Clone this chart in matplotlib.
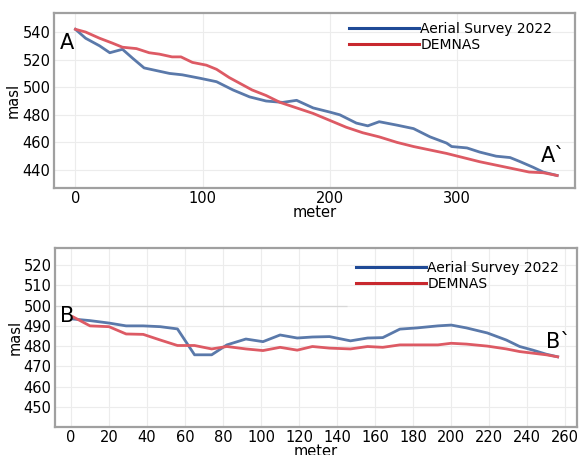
import matplotlib.pyplot as plt

# profile A - A`
a_dist_survey = [0, 8, 19, 27, 37, 45, 54, 64, 74, 84, 98, 111, 124, 137, 150, 163, 174,
                 187, 200, 208, 221, 230, 239, 253, 266, 279, 292, 296, 308, 318, 331, 342,
                 350, 360, 368, 379]
a_elev_survey = [542, 535.5, 530, 525, 527.5, 521, 514, 512, 510, 509, 506.5, 504, 498, 493,
                 490, 489, 490.5, 485, 482, 480, 474, 472, 475, 472.5, 470, 464, 459.5, 457,
                 456, 453, 450, 449, 446, 442, 438.5, 436]
a_dist_demnas = [0, 8, 19, 29, 37, 48, 58, 66, 76, 83, 92, 103, 111, 121, 129, 139, 150, 161,
                 174, 187, 200, 213, 226, 239, 253, 266, 279, 292, 305, 318, 331, 344, 357,
                 368, 379]
a_elev_demnas = [542, 540, 535.5, 532, 529, 528, 525, 524, 522, 522, 518, 516, 513, 507, 503,
                 498, 494, 489, 485, 481, 476, 471, 467, 464, 460, 457, 454.5, 452, 449, 446,
                 443.5, 441, 438.5, 438, 436]

# profile B - B`
b_dist = [1, 10, 20, 29, 38, 47, 56, 65, 74, 82, 92, 101, 110, 119, 127, 136, 147, 156, 164,
          173, 182, 193, 200, 208, 219, 229, 236, 243, 250, 256]
b_elev_survey = [493.4, 492.6, 491.4, 490, 490, 489.6, 488.5, 475.7, 475.7, 480.6, 483.5,
                 482.2, 485.5, 484, 484.5, 484.7, 482.6, 484, 484.2, 488.4, 489, 490, 490.4,
                 489, 486.5, 483, 479.8, 478, 476, 474.7]
b_elev_demnas = [494.5, 490, 489.6, 486, 485.8, 483, 480.3, 480.3, 478.6, 479.8, 478.6, 477.8,
                 479.4, 478, 479.8, 479, 478.6, 479.8, 479.4, 480.6, 480.6, 480.6, 481.4, 481,
                 480, 478.6, 477.3, 476.5, 475.7, 474.7]

blue_line = '#5a79aa'
red_line = '#dd5a64'
blue_leg = '#1f4a96'
red_leg = '#c8282e'
frame = '#a0a0a0'


def style_axes(ax):
    for s in ax.spines.values():
        s.set_color(frame)
        s.set_linewidth(1.6)
    ax.tick_params(length=0, labelsize=10.5, pad=2.5)
    ax.grid(True, color='#ececec', linewidth=0.8)
    ax.set_axisbelow(True)


def add_legend(ax, anchor):
    h1, = ax.plot([], [], color=blue_leg, linewidth=2.2, label='Aerial Survey 2022')
    h2, = ax.plot([], [], color=red_leg, linewidth=2.2, label='DEMNAS')
    ax.legend(handles=[h1, h2], loc='upper right', frameon=False, fontsize=10,
              handlelength=5.0, handletextpad=0.1, labelspacing=0.15,
              borderaxespad=0.3, bbox_to_anchor=anchor)


fig = plt.figure(figsize=(5.79, 4.55), dpi=100)

ax1 = fig.add_axes([0.093, 0.587, 0.900, 0.385])
ax1.plot(a_dist_survey, a_elev_survey, color=blue_line, linewidth=2)
ax1.plot(a_dist_demnas, a_elev_demnas, color=red_line, linewidth=2)
ax1.set_xlim(-17, 393)
ax1.set_ylim(427, 554)
ax1.set_xticks([0, 100, 200, 300])
ax1.set_yticks([440, 460, 480, 500, 520, 540])
ax1.set_xlabel('meter', fontsize=10.5, labelpad=-1)
ax1.set_ylabel('masl', fontsize=10.5, labelpad=1)
ax1.text(-12, 532, 'A', fontsize=15, ha='left', va='center')
ax1.text(386, 450, 'A`', fontsize=15, ha='right', va='center')
style_axes(ax1)
add_legend(ax1, (0.975, 1.005))

ax2 = fig.add_axes([0.095, 0.0615, 0.901, 0.393])
ax2.plot(b_dist, b_elev_survey, color=blue_line, linewidth=2)
ax2.plot(b_dist, b_elev_demnas, color=red_line, linewidth=2)
ax2.hlines(500, -8.4, 145, color='#d8d8d8', linewidth=0.9)
ax2.set_xlim(-8.4, 266)
ax2.set_ylim(440, 528.4)
ax2.set_xticks(range(0, 261, 20))
ax2.set_yticks(range(450, 521, 10))
ax2.set_xlabel('meter', fontsize=10.5, labelpad=-1)
ax2.set_ylabel('masl', fontsize=10.5, labelpad=1)
ax2.text(-6, 495, 'B', fontsize=15, ha='left', va='center')
ax2.text(263, 482, 'B`', fontsize=15, ha='right', va='center')
style_axes(ax2)
add_legend(ax2, (0.985, 0.985))

fig.savefig('out.png', dpi=100)
